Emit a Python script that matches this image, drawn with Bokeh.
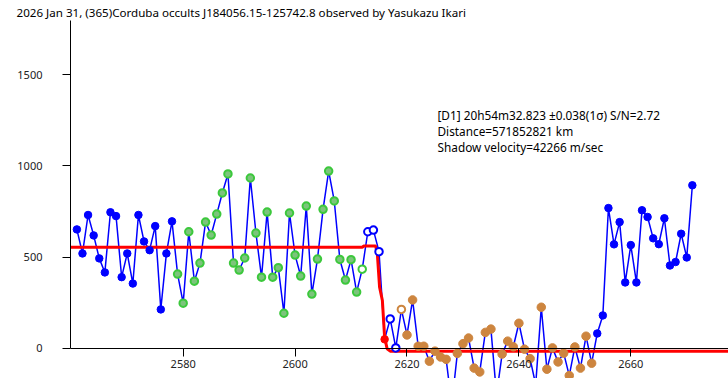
from bokeh.plotting import figure
from bokeh.models import FixedTicker, Label
from bokeh.embed import file_html
from bokeh.resources import INLINE

title_text = "2026 Jan 31, (365)Corduba occults J184056.15-125742.8 observed by Yasukazu Ikari"
info_lines = ["[D1] 20h54m32.823 \u00b10.038(1\u03c3) S/N=2.72",
              "Distance=571852821 km",
              "Shadow velocity=42266 m/sec"]

frames = list(range(2561, 2672))
values = [652, 520, 731, 619, 493, 416, 746, 725, 390, 520,
          355, 731, 586, 538, 670, 213, 520, 696, 407, 247,
          639, 368, 467, 692, 621, 736, 852, 956, 467, 429,
          495, 934, 632, 390, 747, 390, 442, 192, 742, 511,
          396, 780, 297, 489, 762, 972, 808, 487, 374, 486,
          308, 434, 639, 648, 530, 49, 161, 2, 213, 73,
          265, 11, 11, -71, -16, -48, -61, -310, -28, 25,
          56, -109, -130, 87, 105, -255, -32, 39, 8, 137,
          -5, -57, -200, 225, -115, 2, -75, -27, -150, 7,
          -109, 66, -82, 81, 180, 769, 570, 692, 361, 566,
          361, 757, 720, 603, 571, 713, 454, 473, 628, 498,
          894]

blue_frames = list(range(2561, 2579)) + list(range(2654, 2672))
green_frames = list(range(2579, 2612))
tan_frames = list(range(2620, 2654))
open_green_frames = [2612]
open_blue_frames = [2613, 2614, 2615, 2617, 2618]
open_tan_frames = [2619]
red_frames = [2616]

model_x = [2559.86, 2612.0, 2612.3, 2614.4, 2614.7, 2615.1, 2615.6, 2616.0, 2616.45, 2617.0, 2677.5]
model_y = [554, 554, 561, 561, 518, 335, 262, 60, -3, -16, -16]

x_ticks = [2580, 2600, 2620, 2640, 2660]
y_ticks = [0, 500, 1000, 1500]

FONT = "Noto Sans"

def pick(fr):
    return [values[frames.index(f)] for f in fr]

p = figure(width=728, height=378, x_range=(2559.86, 2677.46), y_range=(-166, 1798),
           output_backend="svg", toolbar_location=None,
           min_border_left=70, min_border_right=0, min_border_bottom=0, min_border_top=20,
           title=title_text)
p.title.text_font = FONT
p.title.text_font_size = "11.6px"
p.title.text_font_style = "normal"
p.title.text_color = "black"
p.title.offset = -54
p.title.standoff = 2
p.outline_line_color = None
p.grid.visible = False
p.background_fill_color = "white"
p.border_fill_color = "white"

xa = p.xaxis[0]
xa.fixed_location = 0
xa.ticker = FixedTicker(ticks=x_ticks)
xa.minor_tick_line_color = None
xa.major_tick_out = 8
xa.major_tick_in = 0
xa.axis_line_color = "black"
xa.major_tick_line_color = "black"
xa.major_label_text_font = FONT
xa.major_label_text_font_size = "11px"
xa.major_label_text_color = "#222222"
xa.major_label_standoff = 4

ya = p.yaxis[0]
ya.bounds = (0, 1798)
ya.ticker = FixedTicker(ticks=y_ticks)
ya.minor_tick_line_color = None
ya.major_tick_out = 8
ya.major_tick_in = 0
ya.axis_line_color = "black"
ya.major_tick_line_color = "black"
ya.major_label_text_font = FONT
ya.major_label_text_font_size = "11px"
ya.major_label_text_color = "#222222"
ya.major_label_standoff = 20

p.line(frames, values, line_color="#0000ff", line_width=1.5)
p.line(model_x, model_y, line_color="#ff0000", line_width=3)

p.scatter(blue_frames, pick(blue_frames), marker="circle", size=7.5,
          fill_color="#0000ff", line_color="#0000ff", line_width=1)
p.scatter(green_frames, pick(green_frames), marker="circle", size=7.5,
          fill_color="#7cc47c", line_color="#3cc83c", line_width=2)
p.scatter(tan_frames, pick(tan_frames), marker="circle", size=8.5,
          fill_color="#cd853f", line_color="#cd853f", line_width=1)
p.scatter(open_green_frames, pick(open_green_frames), marker="circle", size=7.5,
          fill_color="white", line_color="#3cc83c", line_width=2)
p.scatter(open_blue_frames, pick(open_blue_frames), marker="circle", size=7.5,
          fill_color="white", line_color="#0000ff", line_width=2)
p.scatter(open_tan_frames, pick(open_tan_frames), marker="circle", size=7.5,
          fill_color="white", line_color="#cd853f", line_width=2)
p.scatter(red_frames, pick(red_frames), marker="circle", size=7.5,
          fill_color="#ff0000", line_color="#ff0000", line_width=1)

for txt, yv in zip(info_lines, [1282, 1190, 1103]):
    p.add_layout(Label(x=2625.45, y=yv, text=txt, text_font=FONT, text_font_size="11.8px",
                       text_color="black", text_baseline="alphabetic", text_align="left"))

open("out.html", "w").write(file_html(p, INLINE))
